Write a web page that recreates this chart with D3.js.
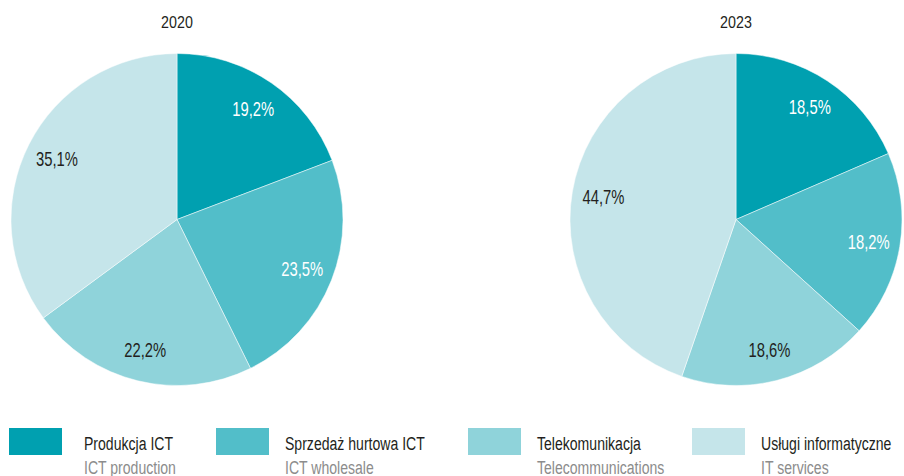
<!DOCTYPE html>
<html lang="pl">
<head>
  <meta charset="UTF-8">
  <title>ICT</title>
  <style>
    body, html {
      margin: 0;
      padding: 0;
      background-color: #ffffff;
    }
    #svg text {
      font-family: 'Liberation Sans', Arial, sans-serif;
    }
  </style>
</head>
<body>
  <svg id="svg" width="904" height="476"></svg>
  <script src="https://d3js.org/d3.v7.min.js"></script>
  <script>
    // data
    const categories = ['Produkcja ICT', 'Sprzedaż hurtowa ICT', 'Telekomunikacja', 'Usługi informatyczne']
    const categoriesEn = ['ICT production', 'ICT wholesale', 'Telecommunications', 'IT services']
    const years = ['2020', '2023']
    const values2020 = [19.2, 23.5, 22.2, 35.1]
    const values2023 = [18.5, 18.2, 18.6, 44.7]

    const colors = ['#00a0b0', '#52bec9', '#8fd3da', '#c5e5ea']
    const labelColors = ['#ffffff', '#ffffff', '#231f20', '#231f20']

    const svg = d3.select('#svg')
    const radius = 166
    const centers = [177, 736]
    const cy = 219.5
    // narrow look of the original condensed typeface
    const squeeze = 0.74

    const colorScale = d3.scaleOrdinal()
      .domain(categories)
      .range(colors)

    const pie = d3.pie()
      .value(d => d.value)
      .sort(null)

    const arc = d3.arc()
      .innerRadius(0)
      .outerRadius(radius)

    const labelArc = d3.arc()
      .innerRadius(radius * 0.81)
      .outerRadius(radius * 0.81)

    const fmt = v => d3.format('.1f')(v).replace('.', ',') + '%'

    const series = [values2020, values2023]

    series.forEach((vals, i) => {
      const data = vals.map((v, j) => ({ cat: categories[j], value: v, idx: j }))
      const g = svg.append('g')
        .attr('transform', `translate(${centers[i]}, ${cy})`)

      g.selectAll('path')
        .data(pie(data))
        .enter()
        .append('path')
        .attr('d', arc)
        .attr('fill', d => colorScale(d.data.cat))
        .attr('stroke', '#ffffff')
        .attr('stroke-width', 0.5)

      g.selectAll('text.lbl')
        .data(pie(data))
        .enter()
        .append('text')
        .attr('class', 'lbl')
        .attr('transform', d => {
          const c = labelArc.centroid(d)
          return `translate(${c[0]}, ${c[1]}) scale(${squeeze}, 1)`
        })
        .attr('dy', '0.36em')
        .attr('text-anchor', 'middle')
        .style('font-size', '20px')
        .style('fill', d => labelColors[d.data.idx])
        .text(d => fmt(d.data.value))

      svg.append('text')
        .attr('transform', `translate(${centers[i]}, 28) scale(0.84, 1)`)
        .attr('text-anchor', 'middle')
        .style('font-size', '17px')
        .style('fill', '#231f20')
        .text(years[i])
    })

    // legend
    const legendX = [9, 216, 468, 692]
    const legend = svg.selectAll('g.legend')
      .data(categories)
      .enter()
      .append('g')
      .attr('class', 'legend')
      .attr('transform', (d, i) => `translate(${legendX[i]}, 428)`)

    legend.append('rect')
      .attr('width', 53)
      .attr('height', 27)
      .attr('fill', d => colorScale(d))

    legend.append('text')
      .attr('transform', (d, i) => `translate(${i === 0 ? 75 : 69}, 22) scale(${squeeze}, 1)`)
      .style('font-size', '19px')
      .style('fill', '#231f20')
      .text(d => d)

    legend.append('text')
      .attr('transform', (d, i) => `translate(${i === 0 ? 75 : 69}, 46) scale(${squeeze}, 1)`)
      .style('font-size', '19px')
      .style('fill', '#8c8c8c')
      .text((d, i) => categoriesEn[i])
  </script>
</body>
</html>
